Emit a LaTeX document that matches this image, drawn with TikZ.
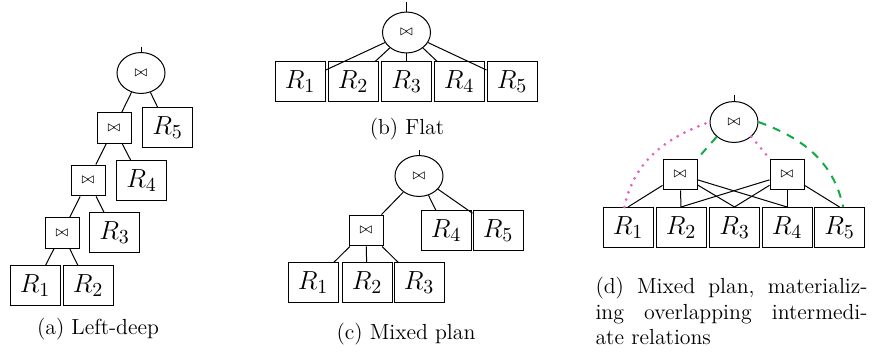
\documentclass[tikz,border=0pt]{standalone}
\usepackage{amsmath,amssymb}
\usepackage{xcolor}
\usetikzlibrary{shapes.geometric,calc}
\definecolor{pinkdot}{RGB}{228,100,190}
\definecolor{greendash}{RGB}{20,170,70}
\tikzset{
  rel/.style={draw, minimum width=27.5pt, minimum height=22pt, inner sep=0pt, font=\fontsize{15}{18}\selectfont},
  joinbox/.style={draw, minimum width=18.7pt, minimum height=17pt, inner sep=0pt, font=\footnotesize},
  joinroot/.style={draw, ellipse, minimum width=26.4pt, minimum height=22.5pt, inner sep=0pt, font=\footnotesize},
  subcap/.style={font=\fontsize{12}{14}\selectfont},
  matpink/.style={pinkdot, line width=1.7pt, line cap=round, dash pattern=on 0pt off 4.2pt},
  matgreen/.style={greendash, line width=1.1pt, dash pattern=on 4.5pt off 4pt},
}

\begin{document}
\begin{tikzpicture}[x=0.55pt, y=0.55pt, line width=0.55pt]
  \useasboundingbox (0,0) rectangle (874,-354);
  % (a) Left-deep
  \node[joinroot] (aTop) at (141,-73) {$\bowtie$};
  \coordinate (aOut) at (141,-47);
  \node[joinbox] (aJ3) at (114,-128) {$\bowtie$};
  \node[rel] (aR5) at (167.5,-127.5) {$R_5$};
  \node[joinbox] (aJ2) at (88,-180.5) {$\bowtie$};
  \node[rel] (aR4) at (141.5,-181) {$R_4$};
  \node[joinbox] (aJ1) at (62,-233) {$\bowtie$};
  \node[rel] (aR3) at (114.5,-233) {$R_3$};
  \node[rel] (aR1) at (35,-286) {$R_1$};
  \node[rel] (aR2) at (88,-286) {$R_2$};
  \draw (aOut) -- (aTop);
  \draw (aTop) -- (aJ3);
  \draw (aTop) -- (aR5);
  \draw (aJ3) -- (aJ2);
  \draw (aJ3) -- (aR4);
  \draw (aJ2) -- (aJ1);
  \draw (aJ2) -- (aR3);
  \draw (aJ1) -- (aR1);
  \draw (aJ1) -- (aR2);
  \node[subcap] (aCap) at (98,-329) {(a) Left-deep};

  % (b) Flat
  \node[joinroot] (bTop) at (406.5,-32.5) {$\bowtie$};
  \coordinate (bOut) at (406.5,-2);
  \draw (bOut) -- (bTop);
  \foreach \i/\x in {1/300,2/353,3/406.5,4/459,5/512} {
    \node[rel] (bR\i) at (\x,-82) {$R_\i$};
    \draw (bTop) -- (bR\i);
  }
  \node[subcap] (bCap) at (407,-129) {(b) Flat};

  % (c) Mixed plan
  \node[joinroot] (cTop) at (419,-176) {$\bowtie$};
  \coordinate (cOut) at (419,-150);
  \node[joinbox] (cJ) at (366,-230.5) {$\bowtie$};
  \node[rel] (cR4) at (446,-231) {$R_4$};
  \node[rel] (cR5) at (498,-231) {$R_5$};
  \node[rel] (cR1) at (313,-283) {$R_1$};
  \node[rel] (cR2) at (367,-283) {$R_2$};
  \node[rel] (cR3) at (419,-283) {$R_3$};
  \draw (cOut) -- (cTop);
  \draw (cTop) -- (cJ);
  \draw (cTop) -- (cR4);
  \draw (cTop) -- (cR5);
  \draw (cJ) -- (cR1);
  \draw (cJ) -- (cR2);
  \draw (cJ) -- (cR3);
  \node[subcap] (cCap) at (406,-334) {(c) Mixed plan};

  % (d) Overlapping intermediates
  \node[joinroot] (dTop) at (734,-122) {$\bowtie$};
  \coordinate (dOut) at (734,-95);
  \node[joinbox] (dJL) at (680,-174.5) {$\bowtie$};
  \node[joinbox] (dJR) at (787,-174.5) {$\bowtie$};
  \foreach \i/\x in {1/628,2/681,3/734.5,4/787,5/839.5}
    \node[rel] (dR\i) at (\x,-227.5) {$R_\i$};
  \draw (dOut) -- (dTop);
  \foreach \i in {1,...,4} \draw (dJL) -- (dR\i.north);
  \foreach \i in {2,...,5} \draw (dJR) -- (dR\i.north);
  \draw[matpink] ([xshift=-2pt]dR1.north) to[out=78, in=200] (dTop.west);
  \draw[matpink] (dTop.south east) -- (dJR.north west);
  \draw[matgreen] (dTop.south west) -- (dJL.north east);
  \draw[matgreen] (dTop.east) to[out=-20, in=102] ([xshift=2pt]dR5.north);
  \node[subcap, anchor=north west, text width=149.6pt, align=left, inner sep=0pt] (dCap) at (595,-277)
    {\makebox[149.6pt][l]{(d)\hfill Mixed\hfill plan,\hfill materializ-}\\
     \makebox[149.6pt][l]{ing\hfill overlapping\hfill intermedi-}\\
     ate relations};
\end{tikzpicture}
\end{document}
